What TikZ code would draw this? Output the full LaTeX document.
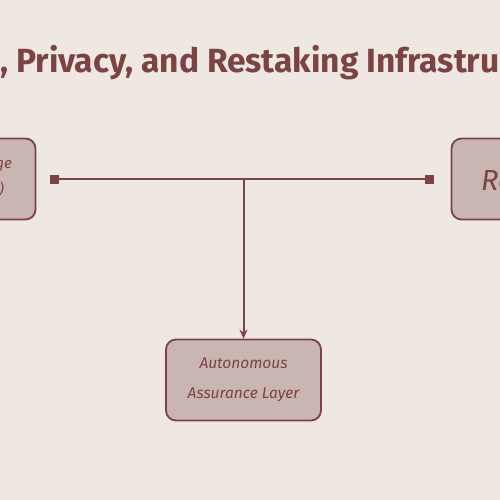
\documentclass[tikz,border=0pt]{standalone}
\usepackage{fontspec}
\setmainfont{Fira Sans}
\usetikzlibrary{arrows.meta,positioning}
\definecolor{bgcol}{HTML}{EFE7E2}
\definecolor{boxfill}{HTML}{C9B5B1}
\definecolor{inkcol}{HTML}{7B4343}
\tikzset{
  layerbox/.style={draw=inkcol, fill=boxfill, line width=1.8pt, rounded corners=10pt,
    minimum width=155pt, minimum height=81pt, align=center, text=inkcol,
    font=\itshape\fontsize{15.5}{30}\selectfont},
  boxtext/.style={text=inkcol, inner sep=0pt},
  link/.style={draw=inkcol, line width=2pt}
}
\begin{document}
\begin{tikzpicture}[x=1pt,y=-1pt]
\fill[bgcol] (0,0) rectangle (500,500);
\useasboundingbox (0,0) rectangle (500,500);
\clip (0,0) rectangle (500,500);
% --- titolo (tagliato ai bordi)
\node[boxtext, anchor=base west, font=\bfseries\fontsize{33.5}{36}\selectfont] (title) at (0,73) {, Privacy, and Restaking Infrastru};
% --- blocchi
\node[layerbox] (leftnode) at (-42,179) {};
\node[boxtext, anchor=base east, font=\itshape\fontsize{15}{25}\selectfont] (lefttop) at (12,168) {ge};
\node[boxtext, anchor=base east, font=\itshape\fontsize{15}{25}\selectfont] (leftbot) at (4,194) {)};
\node[layerbox] (rightnode) at (529,179) {};
\node[boxtext, anchor=base west, font=\itshape\fontsize{29}{30}\selectfont] (righttext) at (481,190) {Re};
\node[layerbox] (assurance) at (243.5,380) {Autonomous\\Assurance Layer};
% --- collegamenti
\coordinate (junc) at (assurance.north |- leftnode.east);
\draw[link, {Square[length=9pt,width=9pt]}-{Square[length=9pt,width=9pt]}, shorten <=14pt, shorten >=17pt] (leftnode.east) -- (rightnode.west);
\draw[link, -{Stealth[length=9pt,width=8pt]}] (junc) -- (assurance.north);
\end{tikzpicture}
\end{document}
